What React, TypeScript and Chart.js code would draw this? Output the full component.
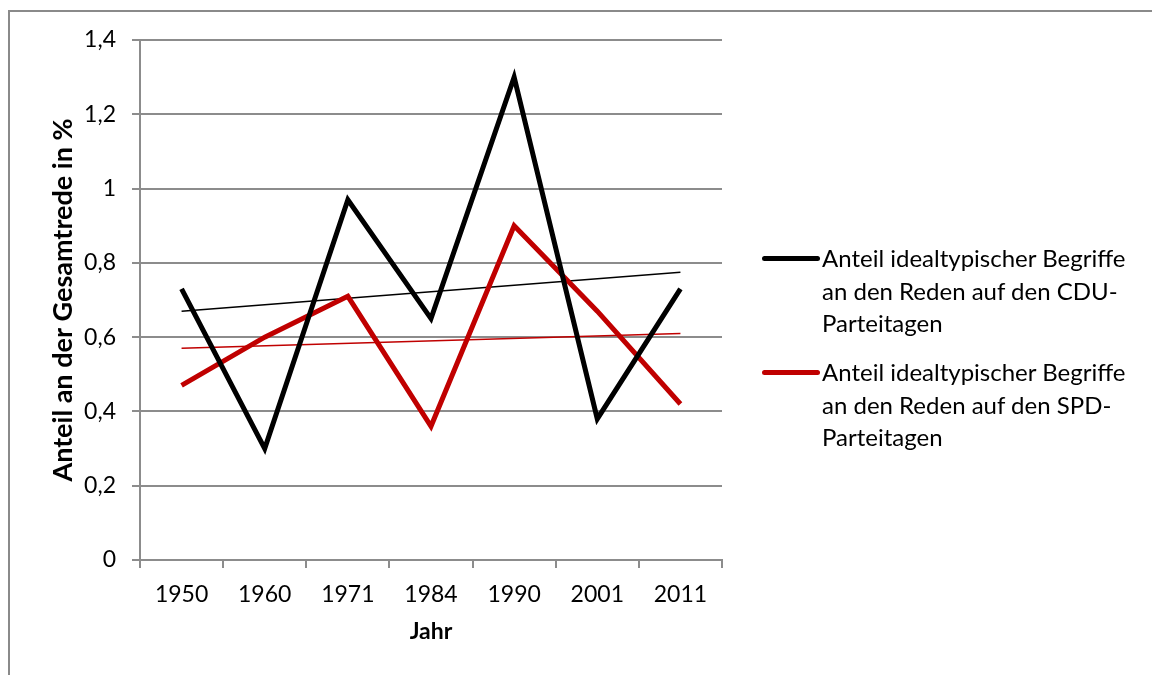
import React, { useEffect, useRef } from "react";
import { Chart, registerables } from "chart.js";

Chart.register(...registerables);

const years = ["1950", "1960", "1971", "1984", "1990", "2001", "2011"];
const cduValues = [0.73, 0.3, 0.97, 0.65, 1.3, 0.38, 0.73];
const spdValues = [0.47, 0.6, 0.71, 0.36, 0.9, 0.67, 0.42];
const cduTrend = [0.67, null, null, null, null, null, 0.775];
const spdTrend = [0.57, null, null, null, null, null, 0.61];
const cduLabel = ["Anteil idealtypischer Begriffe", "an den Reden auf den CDU-", "Parteitagen"];
const spdLabel = ["Anteil idealtypischer Begriffe", "an den Reden auf den SPD-", "Parteitagen"];

const FONT = "Lato";
const BLACK = "#000000";
const RED = "#c00000";
const GRID = "#8c8c8c";

export default function App() {
  const ref = useRef<HTMLCanvasElement | null>(null);

  useEffect(() => {
    if (!ref.current) return;
    const chart = new Chart(ref.current, {
      type: "line",
      data: {
        labels: years,
        datasets: [
          { label: cduLabel.join(" "), data: cduValues, borderColor: BLACK, borderWidth: 5, pointRadius: 0, tension: 0 },
          { label: spdLabel.join(" "), data: spdValues, borderColor: RED, borderWidth: 5, pointRadius: 0, tension: 0 },
          { label: "trend CDU", data: cduTrend, borderColor: BLACK, borderWidth: 1.5, pointRadius: 0, spanGaps: true },
          { label: "trend SPD", data: spdTrend, borderColor: RED, borderWidth: 1.5, pointRadius: 0, spanGaps: true },
        ],
      },
      options: {
        animation: false,
        responsive: false,
        maintainAspectRatio: false,
        layout: { padding: { left: 0, top: 40, right: 430, bottom: 0 } },
        plugins: { legend: { display: false }, tooltip: { enabled: false } },
        scales: {
          x: {
            offset: true,
            grid: { display: true, drawOnChartArea: false, color: GRID, lineWidth: 2, tickLength: 8, offset: true },
            border: { color: GRID, width: 2 },
            ticks: { color: "#000", font: { family: FONT, size: 23 }, padding: 13 },
            title: { display: true, text: "Jahr", color: "#000", font: { family: FONT, size: 23, weight: "bold" }, padding: { top: 0, bottom: 30 } },
            afterFit: (s: any) => { s.height = 115; },
          },
          y: {
            min: 0,
            max: 1.4,
            ticks: {
              stepSize: 0.2,
              color: "#000",
              font: { family: FONT, size: 23 },
              padding: 16,
              callback: (v: any) => String(Math.round(Number(v) * 10) / 10).replace(".", ","),
            },
            grid: { color: GRID, lineWidth: 2, tickLength: 8 },
            border: { color: GRID, width: 2 },
            title: { display: true, text: "Anteil an der Gesamtrede in %", color: "#000", font: { family: FONT, size: 27, weight: "bold" }, padding: { top: 47, bottom: 0 } },
            afterFit: (s: any) => { s.width = 140; },
          },
        },
      },
    });
    return () => chart.destroy();
  }, []);

  const legendEntry = (lines: string[], color: string, top: number) => (
    <div style={{ position: "absolute", left: 762, top, display: "flex", alignItems: "flex-start" }}>
      <div style={{ width: 58, height: 5, background: color, borderRadius: 3, marginTop: 14, marginRight: 2 }} />
      <div style={{ fontFamily: FONT, fontSize: 24, lineHeight: "32.5px", color: "#000", whiteSpace: "nowrap" }}>
        {lines.map((l, i) => (
          <div key={i}>{l}</div>
        ))}
      </div>
    </div>
  );

  return (
    <div style={{ position: "absolute", left: 0, top: 0, width: 1152, height: 675, overflow: "hidden", background: "#fff" }}>
      <div style={{ position: "absolute", left: 8, top: 10, width: 1300, height: 800, border: "2px solid #8a8a8a", boxSizing: "border-box" }} />
      <canvas ref={ref} width={1152} height={675} style={{ position: "absolute", left: 0, top: 0, width: 1152, height: 675 }} />
      {legendEntry(cduLabel, BLACK, 242)}
      {legendEntry(spdLabel, RED, 356)}
    </div>
  );
}
